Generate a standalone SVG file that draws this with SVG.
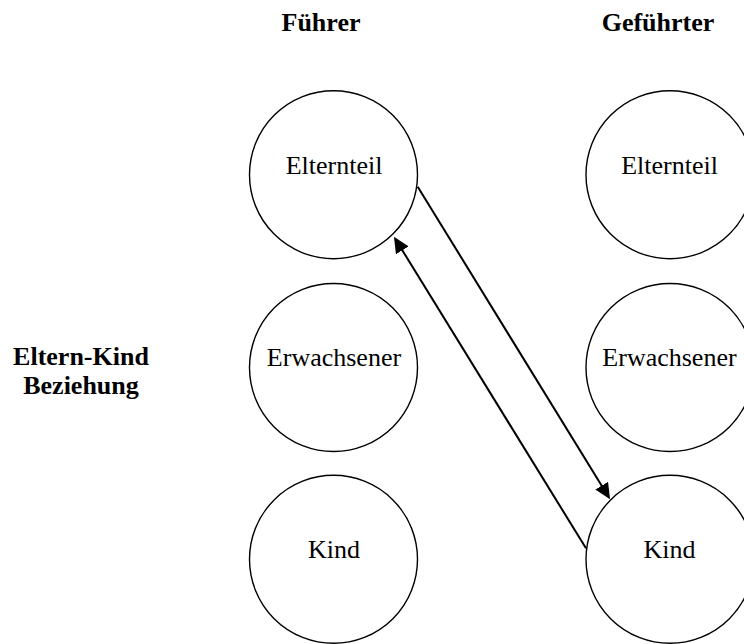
<svg xmlns="http://www.w3.org/2000/svg" width="744" height="644" viewBox="0 0 744 644">
  <style>
    .node circle { fill: #ffffff; stroke: #000000; stroke-width: 1.4; }
    .node text { font-family: "Liberation Serif", "Times New Roman", serif; font-size: 26px; fill: #000000; text-anchor: middle; }
    .head { font-family: "Liberation Serif", "Times New Roman", serif; font-size: 26px; font-weight: bold; fill: #000000; text-anchor: middle; }
    .conn { stroke: #000000; stroke-width: 2; fill: none; marker-end: url(#arrow); }
  </style>
  <defs>
    <marker id="arrow" markerUnits="userSpaceOnUse" markerWidth="16" markerHeight="15" viewBox="0 0 16 15" refX="6" refY="7.5" orient="auto">
      <path d="M0,0 L16,7.5 L0,15 z" fill="#000000"/>
    </marker>
  </defs>
  <rect x="0" y="0" width="744" height="644" fill="#ffffff"/>

  <g id="header-fuehrer"><text class="head" x="321" y="31">Führer</text></g>
  <g id="header-gefuehrter"><text class="head" x="658" y="31">Geführter</text></g>
  <g id="row-label">
    <text class="head" x="81" y="365">Eltern-Kind</text>
    <text class="head" x="81" y="393.5">Beziehung</text>
  </g>

  <g id="f-elternteil" class="node"><circle cx="333.5" cy="174.7" r="84"/><text x="334" y="174">Elternteil</text></g>
  <g id="f-erwachsener" class="node"><circle cx="333.5" cy="367.5" r="84"/><text x="334" y="366">Erwachsener</text></g>
  <g id="f-kind" class="node"><circle cx="333.5" cy="559.3" r="84"/><text x="334" y="558">Kind</text></g>

  <g id="g-elternteil" class="node"><circle cx="670" cy="174.7" r="84"/><text x="669.5" y="174">Elternteil</text></g>
  <g id="g-erwachsener" class="node"><circle cx="670" cy="367.5" r="84"/><text x="669.5" y="366">Erwachsener</text></g>
  <g id="g-kind" class="node"><circle cx="670" cy="559.3" r="84"/><text x="669.5" y="558">Kind</text></g>

  <g id="connectors">
    <line class="conn" x1="417.7" y1="186.7" x2="604.8" y2="490.8"/>
    <line class="conn" x1="586" y1="548.3" x2="399.2" y2="245.2"/>
  </g>
</svg>
